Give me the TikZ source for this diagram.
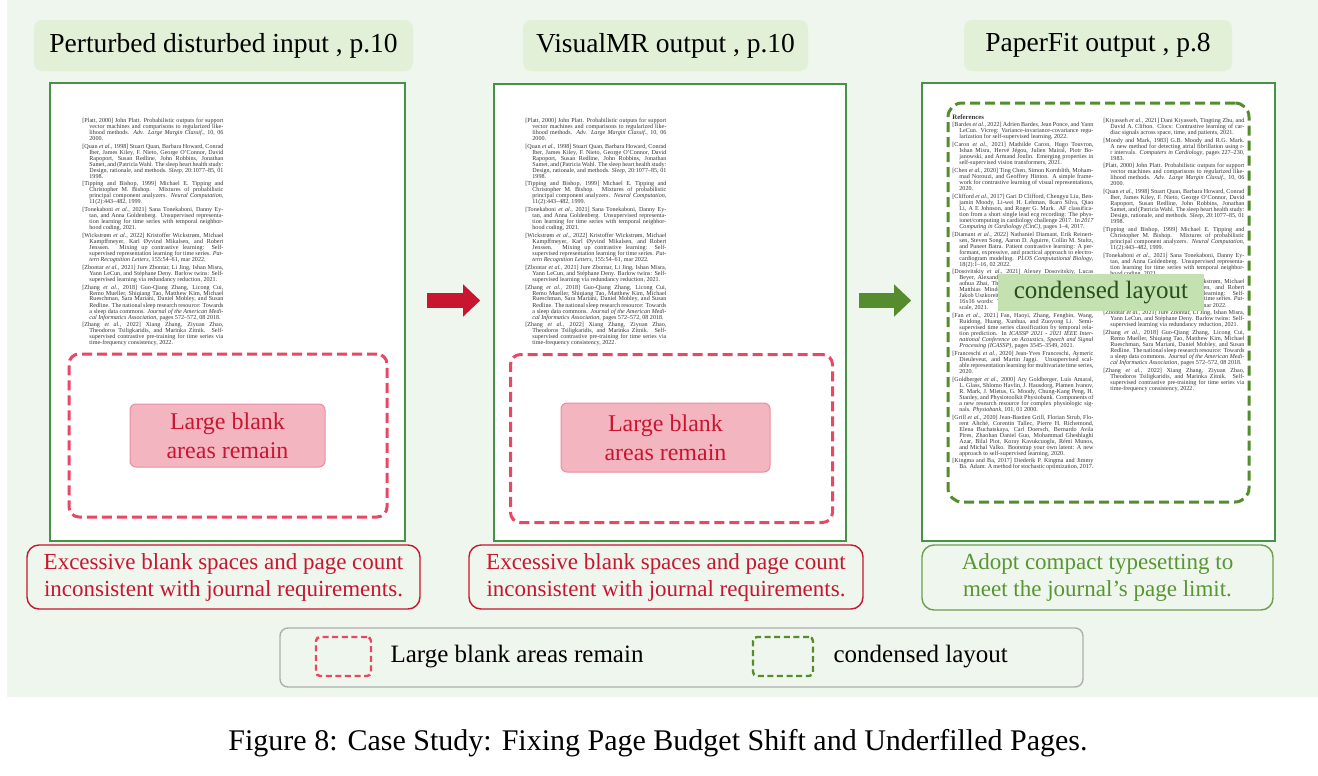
\documentclass[tikz,border=0pt]{standalone}
\usepackage{fontspec}
\setmainfont{Liberation Serif}
\usetikzlibrary{positioning,arrows.meta}

\definecolor{panelbg}{RGB}{239,246,237}
\definecolor{headfill}{RGB}{226,240,216}
\definecolor{framegreen}{RGB}{72,145,72}
\definecolor{warnred}{RGB}{200,22,48}
\definecolor{dashred}{RGB}{232,72,100}
\definecolor{blankfill}{RGB}{243,182,192}
\definecolor{blankedge}{RGB}{236,140,160}
\definecolor{fitgreen}{RGB}{84,140,46}
\definecolor{fitfill}{RGB}{196,225,178}
\definecolor{fittext}{RGB}{38,80,22}
\definecolor{oktext}{RGB}{88,150,52}
\definecolor{legendedge}{RGB}{175,175,175}

% tiny bibliography on the page thumbnails
\newcommand\refitem[1]{\par\hangindent=3.5pt\hangafter=1\noindent#1}
\newcommand\refsmall{\fontsize{3.05}{3.0}\selectfont\setlength\parskip{0.9pt}\tolerance=9999\emergencystretch=6pt}

\newcommand\refPlatt{\refitem{[Platt, 2000] John Platt. Probabilistic outputs for support vector machines and comparisons to regularized likelihood methods. \textit{Adv. Large Margin Classif.}, 10, 06 2000.}}
\newcommand\refQuan{\refitem{[Quan \textit{et al.}, 1998] Stuart Quan, Barbara Howard, Conrad Iber, James Kiley, F. Nieto, George O'Connor, David Rapoport, Susan Redline, John Robbins, Jonathan Samet, and (Patricia Wahl. The sleep heart health study: Design, rationale, and methods. \textit{Sleep}, 20:1077--85, 01 1998.}}
\newcommand\refTipping{\refitem{[Tipping and Bishop, 1999] Michael E. Tipping and Christopher M. Bishop. Mixtures of probabilistic principal component analyzers. \textit{Neural Computation}, 11(2):443--482, 1999.}}
\newcommand\refTonekaboni{\refitem{[Tonekaboni \textit{et al.}, 2021] Sana Tonekaboni, Danny Eytan, and Anna Goldenberg. Unsupervised representation learning for time series with temporal neighborhood coding, 2021.}}
\newcommand\refWickstrom{\refitem{[Wickstrøm \textit{et al.}, 2022] Kristoffer Wickstrøm, Michael Kampffmeyer, Karl Øyvind Mikalsen, and Robert Jenssen. Mixing up contrastive learning: Self-supervised representation learning for time series. \textit{Pattern Recognition Letters}, 155:54--61, mar 2022.}}
\newcommand\refZbontar{\refitem{[Zbontar \textit{et al.}, 2021] Jure Zbontar, Li Jing, Ishan Misra, Yann LeCun, and Stéphane Deny. Barlow twins: Self-supervised learning via redundancy reduction, 2021.}}
\newcommand\refZhangA{\refitem{[Zhang \textit{et al.}, 2018] Guo-Qiang Zhang, Licong Cui, Remo Mueller, Shiqiang Tao, Matthew Kim, Michael Rueschman, Sara Mariani, Daniel Mobley, and Susan Redline. The national sleep research resource: Towards a sleep data commons. \textit{Journal of the American Medical Informatics Association}, pages 572--572, 08 2018.}}
\newcommand\refZhangB{\refitem{[Zhang \textit{et al.}, 2022] Xiang Zhang, Ziyuan Zhao, Theodoros Tsiligkaridis, and Marinka Zitnik. Self-supervised contrastive pre-training for time series via time-frequency consistency, 2022.}}
\newcommand\reflist{\refPlatt\refQuan\refTipping\refTonekaboni\refWickstrom\refZbontar\refZhangA\refZhangB}

\begin{document}
\begin{tikzpicture}[x=0.5pt,y=-0.5pt,
    head/.style={rounded corners=4pt, fill=headfill, minimum height=25.5pt, inner sep=0pt,
      font=\fontsize{13.75}{16}\selectfont},
    page/.style={draw=framegreen, line width=0.8pt, fill=white, minimum height=229pt},
    reftext/.style={anchor=north west, text width=70.5pt, inner sep=0pt, align=justify, text=black!80},
    blankzone/.style={draw=dashred, line width=1.5pt, dash pattern=on 5pt off 2.5pt, rounded corners=5pt},
    blanklabel/.style={fill=blankfill, draw=blankedge, line width=0.5pt, rounded corners=3pt, text=warnred,
      align=center, font=\fontsize{12}{14.5}\selectfont},
    fitzone/.style={draw=fitgreen, line width=1.5pt, dash pattern=on 5pt off 2.5pt, rounded corners=7pt},
    fitlabel/.style={fill=fitfill, text=fittext, minimum width=103pt, minimum height=15.5pt,
      font=\fontsize{12.5}{14}\selectfont},
    note/.style={rounded corners=6pt, line width=0.7pt, align=center, inner sep=0pt,
      font=\fontsize{11.5}{13.5}\selectfont},
    warn/.style={note, draw=warnred, text=warnred, minimum width=196.5pt, minimum height=32pt},
    fine/.style={note, draw=fitgreen!85, text=oktext, minimum width=175.5pt, minimum height=32.5pt},
    bigarrow/.style={line width=7.5pt, -{Triangle[length=8.5pt,width=15.5pt]}},
    legkey/.style={line width=1.2pt, dash pattern=on 3pt off 1.8pt, rounded corners=2pt,
      minimum width=27.5pt, minimum height=19.5pt},
    legtext/.style={inner sep=0pt, font=\fontsize{12.5}{14}\selectfont}]

  \useasboundingbox (0,0) rectangle (1318,776);
  \fill[panelbg] (7,0) rectangle (1318,697);

  % headings
  \node[head, minimum width=189.5pt] (head1) at (223.5,45.5) {Perturbed disturbed input , p.10};
  \node[head, minimum width=142.5pt] (head2) at (665.5,45.5) {VisualMR output , p.10};
  \node[head, minimum width=134pt] (head3) at (1098,45.5) {PaperFit output , p.8};

  % pages
  \node[page, minimum width=177.5pt] (page1) at (227.5,312) {};
  \node[page, minimum width=176pt, minimum height=228.5pt] (page2) at (670,312.5) {};
  \node[page, minimum width=176.5pt] (page3) at (1098.5,312) {};

  \node[reftext] (bib1) at (82,114) {\refsmall\reflist\par};
  \node[reftext] (bib2) at (525,114) {\refsmall\reflist\par};

  \node[reftext] (bib3a) at (952,114) {\refsmall
    \noindent{\bfseries\fontsize{3.4}{3.6}\selectfont References}
    \refitem{[Bardes \textit{et al.}, 2022] Adrien Bardes, Jean Ponce, and Yann LeCun. Vicreg: Variance-invariance-covariance regularization for self-supervised learning, 2022.}
    \refitem{[Caron \textit{et al.}, 2021] Mathilde Caron, Hugo Touvron, Ishan Misra, Hervé Jégou, Julien Mairal, Piotr Bojanowski, and Armand Joulin. Emerging properties in self-supervised vision transformers, 2021.}
    \refitem{[Chen \textit{et al.}, 2020] Ting Chen, Simon Kornblith, Mohammad Norouzi, and Geoffrey Hinton. A simple framework for contrastive learning of visual representations, 2020.}
    \refitem{[Clifford \textit{et al.}, 2017] Gari D Clifford, Chengyu Liu, Benjamin Moody, Li-wei H. Lehman, Ikaro Silva, Qiao Li, A E Johnson, and Roger G. Mark. AF classification from a short single lead ecg recording: The physionet/computing in cardiology challenge 2017. In \textit{2017 Computing in Cardiology (CinC)}, pages 1--4, 2017.}
    \refitem{[Diamant \textit{et al.}, 2022] Nathaniel Diamant, Erik Reinertsen, Steven Song, Aaron D. Aguirre, Collin M. Stultz, and Puneet Batra. Patient contrastive learning: A performant, expressive, and practical approach to electrocardiogram modeling. \textit{PLOS Computational Biology}, 18(2):1--16, 02 2022.}
    \refitem{[Dosovitskiy \textit{et al.}, 2021] Alexey Dosovitskiy, Lucas Beyer, Alexander Kolesnikov, Dirk Weissenborn, Xiaohua Zhai, Thomas Unterthiner, Mostafa Dehghani, Matthias Minderer, Georg Heigold, Sylvain Gelly, Jakob Uszkoreit, and Neil Houlsby. An image is worth 16x16 words: Transformers for image recognition at scale, 2021.}
    \refitem{[Fan \textit{et al.}, 2021] Fan, Haoyi, Zhang, Fengbin, Wang, Ruidong, Huang, Xunhua, and Zuoyong Li. Semi-supervised time series classification by temporal relation prediction. In \textit{ICASSP 2021 - 2021 IEEE International Conference on Acoustics, Speech and Signal Processing (ICASSP)}, pages 3545--3549, 2021.}
    \refitem{[Franceschi \textit{et al.}, 2020] Jean-Yves Franceschi, Aymeric Dieuleveut, and Martin Jaggi. Unsupervised scalable representation learning for multivariate time series, 2020.}
    \refitem{[Goldberger \textit{et al.}, 2000] Ary Goldberger, Luís Amaral, L. Glass, Shlomo Havlin, J. Hausdorg, Plamen Ivanov, R. Mark, J. Mietus, G. Moody, Chung-Kang Peng, H. Stanley, and Physiotoolkit Physiobank. Components of a new research resource for complex physiologic signals. \textit{Physiobank}, 101, 01 2000.}
    \refitem{[Grill \textit{et al.}, 2020] Jean-Bastien Grill, Florian Strub, Florent Altché, Corentin Tallec, Pierre H. Richemond, Elena Buchatskaya, Carl Doersch, Bernardo Avila Pires, Zhaohan Daniel Guo, Mohammad Gheshlaghi Azar, Bilal Piot, Koray Kavukcuoglu, Rémi Munos, and Michal Valko. Bootstrap your own latent: A new approach to self-supervised learning, 2020.}
    \refitem{[Kingma and Ba, 2017] Diederik P. Kingma and Jimmy Ba. Adam: A method for stochastic optimization, 2017.}\par};
  \node[reftext] (bib3b) at (1103,114) {\refsmall
    \refitem{[Kiyasseh \textit{et al.}, 2021] Dani Kiyasseh, Tingting Zhu, and David A. Clifton. Clocs: Contrastive learning of cardiac signals across space, time, and patients, 2021.}
    \refitem{[Moody and Mark, 1983] G.B. Moody and R.G. Mark. A new method for detecting atrial fibrillation using r-r intervals. \textit{Computers in Cardiology}, pages 227--230, 1983.}
    \reflist\par};

  % marked zones
  \node[blankzone, minimum width=159pt, minimum height=81.5pt] (zone1) at (228,435.5) {};
  \node[blankzone, minimum width=161pt, minimum height=84pt] (zone2) at (671.5,438.5) {};
  \node[blanklabel, minimum width=97.5pt, minimum height=31.5pt] (blank1) at (227.5,435.5) {Large blank\\areas remain};
  \node[blanklabel, minimum width=104.5pt, minimum height=34.5pt] (blank2) at (665.5,437.5) {Large blank\\areas remain};
  \node[fitzone, minimum width=150.5pt, minimum height=199.5pt] (zone3) at (1098.5,302.5) {};
  \node[fitlabel] (dense) at (1101,292.5) {condensed layout};

  % arrows between pages
  \coordinate (row) at (0,300.5);
  \draw[bigarrow, warnred, shorten <=10.5pt, shorten >=6.5pt] (page1.east |- row) -- (page2.west |- row);
  \draw[bigarrow, fitgreen, shorten <=6pt, shorten >=5pt] (page2.east |- row) -- (page3.west |- row);

  % verdicts
  \node[warn] (verdict1) at (223.5,577) {Excessive blank spaces and page count\\inconsistent with journal requirements.};
  \node[warn, minimum width=197pt] (verdict2) at (666,577) {Excessive blank spaces and page count\\inconsistent with journal requirements.};
  \node[fine] (verdict3) at (1097.5,577.5) {Adopt compact typesetting to\\meet the journal's page limit.};

  % legend
  \node[draw=legendedge, line width=0.7pt, rounded corners=4pt, minimum width=401.5pt, minimum height=29.5pt] (legend) at (681.5,657.5) {};
  \node[legkey, draw=dashred] (keyred) at (343.5,656.5) {};
  \node[legtext, right=9pt of keyred] (keyredtxt) {Large blank areas remain};
  \node[legkey, draw=fitgreen, minimum width=30pt] (keygreen) at (783,656.5) {};
  \node[legtext, right=9.5pt of keygreen] (keygreentxt) {condensed layout};

  \node[font=\fontsize{15}{17}\selectfont] (caption) at (658,743) {Figure 8: Case Study: Fixing Page Budget Shift and Underfilled Pages.};
\end{tikzpicture}
\end{document}
